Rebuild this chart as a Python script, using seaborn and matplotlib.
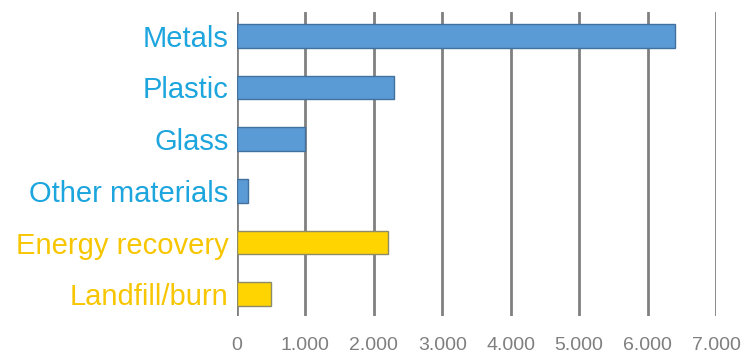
import matplotlib
matplotlib.use("Agg")
import matplotlib.pyplot as plt
import seaborn as sns
import pandas as pd
from matplotlib.ticker import FuncFormatter

categories = ["Metals", "Plastic", "Glass", "Other materials", "Energy recovery", "Landfill/burn"]
values = [6400, 2300, 1000, 160, 2200, 500]
groups = ["material", "material", "material", "material", "other", "other"]
ticks = [0, 1000, 2000, 3000, 4000, 5000, 6000, 7000]

sns.set_theme(style="white")
plt.rcParams['font.family'] = ['Liberation Sans', 'DejaVu Sans']

bar_colors = {"material": "#5B9BD5", "other": "#FFD400"}
edge_colors = {"material": "#41719C", "other": "#8C8C6A"}
label_colors = {"material": "#1DA5DE", "other": "#F7C600"}

df = pd.DataFrame({"category": categories, "value": values, "group": groups})

fig = plt.figure(figsize=(7.44, 3.58), dpi=100)
ax = fig.add_axes([237/744, 1 - 316/358, (716-237)/744, (316-12)/358])

sns.barplot(data=df, x="value", y="category", hue="group", dodge=False,
            palette=bar_colors, orient="h", width=0.46, legend=False,
            saturation=1, ax=ax, zorder=3)
for patch in ax.patches:
    fc = patch.get_facecolor()
    if fc[2] > 0.5:
        patch.set_edgecolor(edge_colors["material"])
    else:
        patch.set_edgecolor(edge_colors["other"])
    patch.set_linewidth(1.0)

ax.set_xlim(0, 7000)
ax.set_ylim(5.42, -0.46)
ax.set_xticks(ticks)
ax.xaxis.set_major_formatter(FuncFormatter(lambda v, p: f"{int(v):,}".replace(",", ".")))
ax.grid(axis="x", color="#808080", linewidth=2, zorder=0)
ax.grid(axis="y", visible=False)
for s in ax.spines.values():
    s.set_visible(False)
ax.tick_params(axis="x", length=0, pad=15, labelsize=14, labelcolor="#7F7F7F")
ax.tick_params(axis="y", length=0, pad=6, labelsize=21)
ax.set_xlabel("")
ax.set_ylabel("")
for lbl, g in zip(ax.get_yticklabels(), groups):
    lbl.set_color(label_colors[g])

fig.savefig("out.png", dpi=100)
